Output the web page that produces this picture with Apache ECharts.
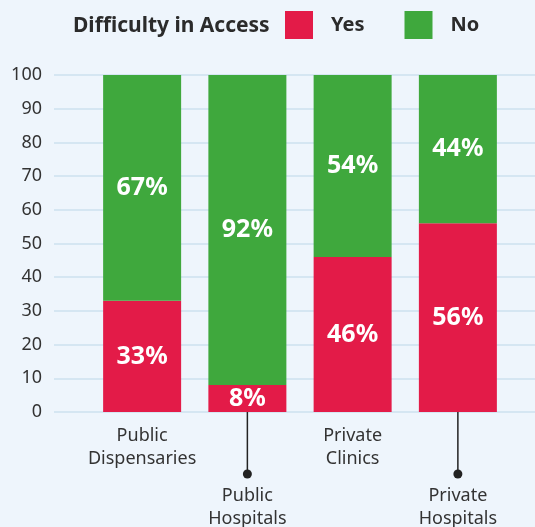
<!DOCTYPE html>
<html>
<head>
<meta charset="utf-8">
<script src="https://cdn.jsdelivr.net/npm/echarts@6/dist/echarts.min.js"></script>
<style>
  html, body { margin: 0; padding: 0; background: #EEF5FC; }
  #chart { width: 535px; height: 527px; }
</style>
</head>
<body>
<div id="chart"></div>
<script>
// Share of respondents reporting difficulty in accessing each facility type
const categories = ['Public\nDispensaries', 'Public\nHospitals', 'Private\nClinics', 'Private\nHospitals'];
const yesValues = [33, 8, 46, 56];
const noValues = [67, 92, 54, 44];
// Labels placed on the lower row get a leader line down from the bar
const lowerRow = [0, 1, 0, 1];
const yTicks = [0, 10, 20, 30, 40, 50, 60, 70, 80, 90, 100];

const FONT = '"Noto Sans", "Open Sans", sans-serif';
const RED = '#E31B48';
const GREEN = '#3FA83D';
const INK = '#333333';

const chart = echarts.init(document.getElementById('chart'));

const barLabel = {
  show: true,
  position: 'inside',
  color: '#ffffff',
  fontFamily: FONT,
  fontWeight: 'bold',
  fontSize: 25,
  formatter: p => p.value + '%'
};

const catLabel = (row, margin) => ({
  show: true,
  margin: margin,
  color: INK,
  fontFamily: FONT,
  fontSize: 18,
  lineHeight: 23,
  interval: 0,
  formatter: (v, i) => (lowerRow[i] === row ? v : '')
});

chart.setOption({
  backgroundColor: '#EEF5FC',
  animation: false,
  title: {
    text: 'Difficulty in Access',
    left: 68,
    top: 11,
    textStyle: { fontFamily: FONT, fontWeight: 'bold', fontSize: 21, color: '#2b2b2b' }
  },
  legend: {
    left: 285,
    top: 11,
    padding: 0,
    itemWidth: 28,
    itemHeight: 28,
    itemGap: 40,
    icon: 'rect',
    data: ['Yes', 'No'],
    textStyle: {
      fontFamily: FONT, fontWeight: 'bold', fontSize: 20, color: '#2b2b2b',
      padding: [0, 0, 0, 13]
    }
  },
  grid: [
    { left: 54, right: 0, top: 75, bottom: 115, containLabel: false, outerBoundsMode: 'none' },
    { left: 89.5, right: 24.5, top: 75, bottom: 115, containLabel: false, outerBoundsMode: 'none' }
  ],
  xAxis: [
    { gridIndex: 0, type: 'value', show: false, min: 0, max: 1 },
    {
      gridIndex: 1, type: 'category', data: categories, position: 'bottom',
      axisLine: { show: false }, axisTick: { show: false },
      axisLabel: catLabel(0, 12)
    },
    {
      gridIndex: 1, type: 'category', data: categories, position: 'bottom',
      axisLine: { show: false }, axisTick: { show: false },
      axisLabel: catLabel(1, 72)
    }
  ],
  yAxis: [
    {
      gridIndex: 0, type: 'value', min: yTicks[0], max: yTicks[yTicks.length - 1], interval: 10,
      axisLine: { show: false }, axisTick: { show: false },
      axisLabel: { margin: 12, color: INK, fontFamily: FONT, fontSize: 18 },
      splitLine: { lineStyle: { color: '#CDE1EF', width: 1.5 } }
    },
    {
      gridIndex: 1, type: 'value', min: 0, max: 100, show: false,
      splitLine: { show: false }
    }
  ],
  series: [
    {
      name: 'Yes', type: 'bar', stack: 'access', xAxisIndex: 1, yAxisIndex: 1,
      barWidth: 78, data: yesValues, itemStyle: { color: RED }, label: barLabel
    },
    {
      name: 'No', type: 'bar', stack: 'access', xAxisIndex: 1, yAxisIndex: 1,
      barWidth: 78, data: noValues, itemStyle: { color: GREEN }, label: barLabel
    },
    {
      name: 'leaders', type: 'custom', xAxisIndex: 1, yAxisIndex: 1, clip: false,
      silent: true, z: 5,
      data: lowerRow.map((flag, i) => [i, flag]),
      renderItem: (params, api) => {
        if (!api.value(1)) return null;
        const p = api.coord([api.value(0), 0]);
        const end = p[1] + 62;
        return {
          type: 'group',
          children: [
            { type: 'line', shape: { x1: p[0], y1: p[1], x2: p[0], y2: end },
              style: { stroke: '#222', lineWidth: 1.5 } },
            { type: 'circle', shape: { cx: p[0], cy: end, r: 4.5 },
              style: { fill: '#222' } }
          ]
        };
      }
    }
  ]
});
</script>
</body>
</html>
